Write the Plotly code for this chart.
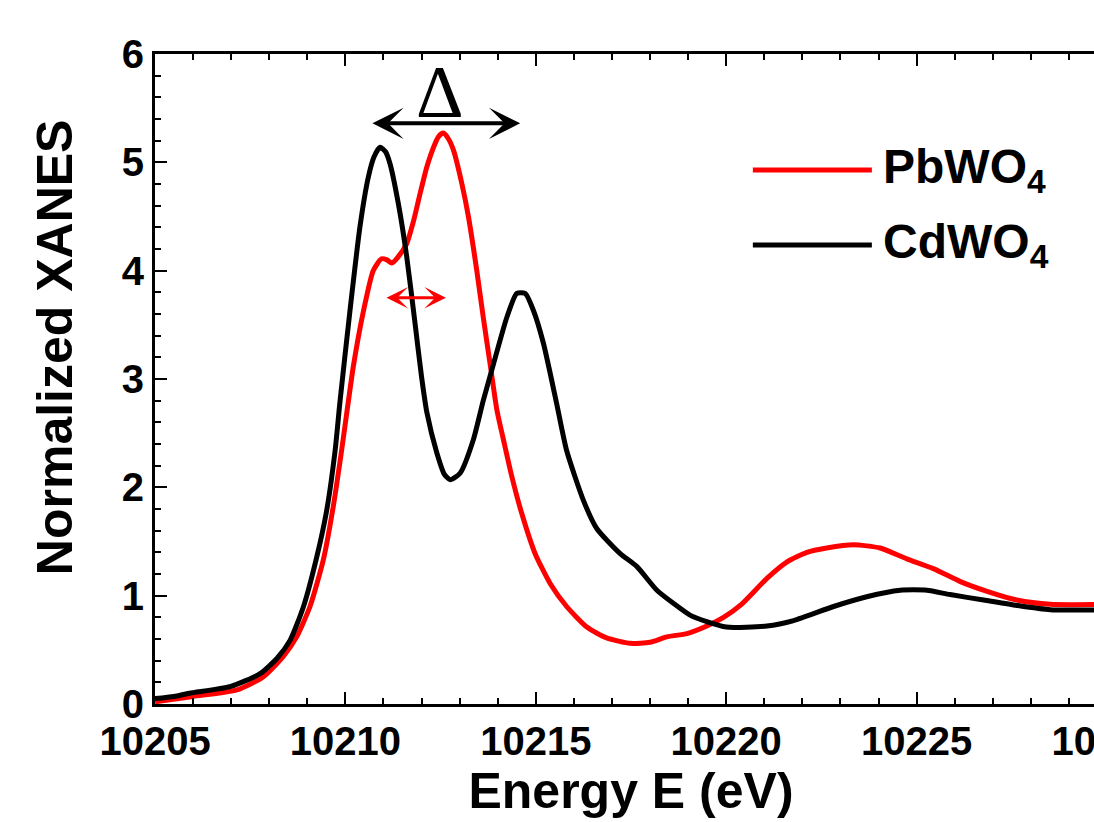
import plotly.graph_objects as go

# ---- data ----
energy_cd = [10205.0, 10205.5, 10205.9, 10206.97, 10207.76, 10208.2, 10208.55, 10208.9, 10209.25,
             10209.51, 10209.73, 10209.86, 10210.12, 10210.38, 10210.6, 10210.75, 10210.91, 10211.05,
             10211.17, 10211.39, 10211.61, 10211.83, 10212.0, 10212.14, 10212.4, 10212.6, 10212.75,
             10213.01, 10213.36, 10213.62, 10213.89, 10214.24, 10214.5, 10214.72, 10214.94, 10215.2,
             10215.55, 10215.81, 10216.25, 10216.6, 10217.21, 10217.65, 10218.18, 10218.61, 10219.05,
             10219.49, 10220.0, 10221.07, 10221.77, 10222.82, 10223.69, 10224.57, 10225.27, 10225.88,
             10226.76, 10227.63, 10228.51, 10230.0]
xanes_cd = [0.05, 0.07, 0.10, 0.16, 0.28, 0.42, 0.59, 0.90, 1.36,
            1.79, 2.34, 2.80, 3.63, 4.40, 4.86, 5.05, 5.14, 5.10,
            4.99, 4.62, 4.13, 3.51, 3.02, 2.69, 2.32, 2.12, 2.07,
            2.13, 2.44, 2.80, 3.14, 3.57, 3.79, 3.79, 3.63, 3.33,
            2.77, 2.34, 1.88, 1.62, 1.39, 1.27, 1.05, 0.93, 0.82,
            0.76, 0.71, 0.72, 0.77, 0.90, 0.99, 1.05, 1.05, 1.01,
            0.96, 0.91, 0.87, 0.87]

energy_pb = [10205.0, 10206.0, 10207.15, 10207.84, 10208.37, 10208.72, 10209.07, 10209.42, 10209.68,
             10209.9, 10210.08, 10210.21, 10210.47, 10210.73, 10210.95, 10211.09, 10211.22, 10211.39,
             10211.61, 10211.79, 10211.96, 10212.14, 10212.35, 10212.45, 10212.57, 10212.7, 10212.84,
             10213.06, 10213.23, 10213.45, 10213.62, 10213.8, 10213.98, 10214.15, 10214.37, 10214.63,
             10214.98, 10215.38, 10215.81, 10216.34, 10216.86, 10217.48, 10218.0, 10218.44, 10218.97,
             10219.49, 10219.93, 10220.4, 10221.07, 10221.59, 10222.12, 10222.64, 10223.34, 10224.04,
             10224.74, 10225.44, 10226.15, 10226.85, 10227.63, 10228.51, 10230.0]
xanes_pb = [0.02, 0.07, 0.13, 0.25, 0.44, 0.62, 0.90, 1.33, 1.82,
            2.34, 2.80, 3.12, 3.62, 4.00, 4.11, 4.10, 4.07, 4.13,
            4.25, 4.46, 4.71, 4.96, 5.17, 5.24, 5.27, 5.22, 5.11,
            4.80, 4.50, 4.00, 3.57, 3.14, 2.71, 2.44, 2.10, 1.76,
            1.39, 1.11, 0.90, 0.71, 0.61, 0.56, 0.57, 0.62, 0.65,
            0.72, 0.80, 0.92, 1.16, 1.31, 1.40, 1.44, 1.47, 1.44,
            1.34, 1.25, 1.13, 1.04, 0.96, 0.92, 0.92]

series_names = ["PbWO<sub>4</sub>", "CdWO<sub>4</sub>"]
series_colors = ["#ff0000", "#000000"]

x_range = [10205, 10230]
y_range = [0, 6]
x_ticks = [10205, 10210, 10215, 10220, 10225, 10230]
y_ticks = [0, 1, 2, 3, 4, 5, 6]

# annotation arrows (data coordinates)
delta_arrow = dict(x0=10210.67, x1=10214.59, y=5.36)
delta_label = dict(x=10212.49, y=5.65, text="Δ")
split_arrow = dict(x0=10211.04, x1=10212.64, y=3.75)

FONT = "Liberation Sans, Arial, sans-serif"

fig = go.Figure()
fig.add_trace(go.Scatter(x=energy_pb, y=xanes_pb, mode="lines", name=series_names[0],
                         line=dict(color=series_colors[0], width=5, shape="spline", smoothing=0.6),
                         showlegend=False))
fig.add_trace(go.Scatter(x=energy_cd, y=xanes_cd, mode="lines", name=series_names[1],
                         line=dict(color=series_colors[1], width=5, shape="spline", smoothing=0.6),
                         showlegend=False))

axis_common = dict(
    showgrid=False, zeroline=False, showline=True, linecolor="black", linewidth=3,
    mirror="ticks", ticks="inside", ticklen=12, tickwidth=2, tickcolor="black",
    tickfont=dict(family=FONT, size=40, color="black", weight="bold"),
    ticklabeloverflow="allow", automargin=False,
)

fig.update_xaxes(range=x_range, tickvals=x_ticks, ticktext=[str(v) for v in x_ticks],
                 minor=dict(dtick=1, ticks="inside", ticklen=6, tickwidth=2, tickcolor="black"),
                 title=dict(text="Energy E (eV)", font=dict(family=FONT, size=50, color="black", weight="bold"),
                            standoff=8),
                 **axis_common)
fig.update_yaxes(range=y_range, tickvals=y_ticks, ticktext=[str(v) for v in y_ticks],
                 minor=dict(dtick=0.2, ticks="inside", ticklen=6, tickwidth=2, tickcolor="black"),
                 **axis_common)

# y-axis title (placed to match reference)
fig.add_annotation(text="Normalized XANES", xref="paper", yref="paper", x=-0.105, y=0.549,
                   textangle=-90, showarrow=False, xanchor="center", yanchor="middle",
                   font=dict(family=FONT, size=50, color="black", weight="bold"))

# Delta double arrow
fig.add_annotation(x=delta_arrow["x1"], y=delta_arrow["y"], ax=delta_arrow["x0"], ay=delta_arrow["y"],
                   xref="x", yref="y", axref="x", ayref="y", text="", showarrow=True,
                   arrowhead=3, startarrowhead=3, arrowside="end+start", arrowsize=1.3, startarrowsize=1.3,
                   arrowwidth=4, arrowcolor="black")
fig.add_annotation(x=delta_label["x"], y=delta_label["y"], text=delta_label["text"], showarrow=False,
                   xref="x", yref="y", font=dict(family="Liberation Serif, Times New Roman, serif", size=74,
                                                 color="black"))
# red double arrow
fig.add_annotation(x=split_arrow["x1"], y=split_arrow["y"], ax=split_arrow["x0"], ay=split_arrow["y"],
                   xref="x", yref="y", axref="x", ayref="y", text="", showarrow=True,
                   arrowhead=3, startarrowhead=3, arrowside="end+start", arrowsize=1.2, startarrowsize=1.2,
                   arrowwidth=3, arrowcolor="#ff0000")

# legend (drawn to match the long line samples of the reference)
legend_rows = [0.8215, 0.706]
for name, color, yy in zip(series_names, series_colors, legend_rows):
    fig.add_shape(type="line", xref="paper", yref="paper", x0=0.628, x1=0.753, y0=yy, y1=yy,
                  line=dict(color=color, width=5))
    fig.add_annotation(text=name, xref="paper", yref="paper", x=0.7626, y=yy, xanchor="left",
                       yanchor="middle", showarrow=False,
                       font=dict(family=FONT, size=48, color="black", weight="bold"))

fig.update_layout(
    width=1125, height=822,
    margin=dict(l=155, r=18, t=54, b=118, autoexpand=False),
    paper_bgcolor="white", plot_bgcolor="white",
    showlegend=False,
)

fig.write_html("out.html")
